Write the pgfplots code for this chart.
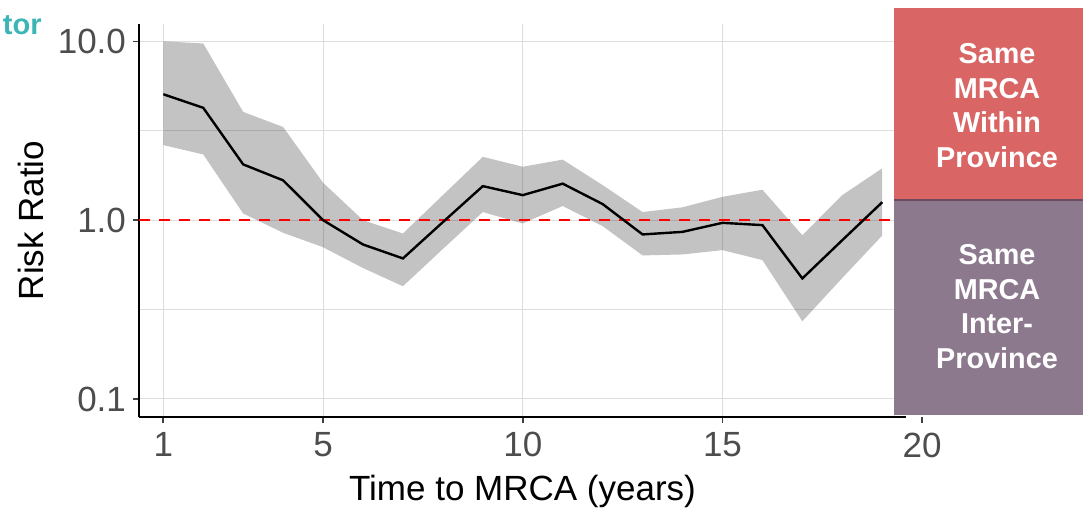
\documentclass[border=0pt]{standalone}
\usepackage{fontspec}
\setmainfont{Liberation Sans}
\usepackage{pgfplots}
\usepackage{pgfplotstable}
\pgfplotsset{compat=1.18}
\usepgfplotslibrary{fillbetween}
\definecolor{gridgrey}{HTML}{DEDEDE}
\definecolor{ticktext}{HTML}{4D4D4D}
\definecolor{withinred}{HTML}{D96565}
\definecolor{interpurple}{HTML}{8D798E}
\definecolor{stripedge}{HTML}{6E4A5E}
\definecolor{tealtext}{HTML}{3DB5B5}

% risk ratio by time to MRCA: estimate and 95% band
\pgfplotstableread{
x  mid   lo    hi
1  5.06  2.63  10.0
2  4.25  2.33  9.73
3  2.05  1.09  4.03
4  1.67  0.85  3.32
5  1.00  0.706 1.62
6  0.731 0.54  1.00
7  0.611 0.427 0.842
8  0.975 0.69  1.38
9  1.55  1.11  2.26
10 1.38  0.958 1.99
11 1.60  1.20  2.18
12 1.23  0.926 1.57
13 0.832 0.635 1.11
14 0.860 0.643 1.18
15 0.966 0.68  1.35
16 0.938 0.598 1.48
17 0.472 0.272 0.824
18 0.773 0.475 1.38
19 1.26  0.821 1.95
}\rrtable

\begin{document}
\begin{tikzpicture}

% strip boxes on the right
\fill[withinred] (447pt,155pt) rectangle (541.5pt,251pt);
\fill[interpurple] (447pt,47.5pt) rectangle (541.5pt,155pt);
\draw[stripedge, line width=0.8pt] (447pt,155pt) -- (541.5pt,155pt);
\node[align=center, text=white, font=\bfseries\fontsize{14.4}{17.25}\selectfont]
  at (498.5pt,202.2pt) {Same\\MRCA\\Within\\Province};
\node[align=center, text=white, font=\bfseries\fontsize{14.4}{17.25}\selectfont]
  at (498.5pt,101.75pt) {Same\\MRCA\\Inter-\\Province};

% clipped legend title from neighbouring panel
\node[anchor=base east, inner sep=0, text=tealtext, font=\bfseries\fontsize{14.5}{17}\selectfont]
  at (21pt,237.5pt) {tor};

\begin{axis}[
  at={(69.5pt,46.5pt)}, anchor=south west,
  scale only axis, width=383.5pt, height=196.5pt,
  xmin=0.392, xmax=19.595,
  ymode=log, ymin=0.0793, ymax=12.5,
  axis lines=left, axis line style={-, black, line width=1pt},
  xtick={1,5,10,15}, xticklabels={1,5,10,15},
  ytick={0.1,1,10}, yticklabels={0.1,1.0,10.0},
  minor ytick={0.3162,3.162},
  xmajorgrids, ymajorgrids, yminorgrids,
  grid style={gridgrey, line width=0.5pt},
  minor grid style={gridgrey, line width=0.5pt},
  tick align=outside, major tick length=3pt, minor tick length=0pt,
  tick style={black!75, line width=0.8pt},
  ticklabel style={font=\fontsize{17.5}{21}\selectfont, text=ticktext},
  xticklabel style={yshift=-1pt},
  xlabel={Time to MRCA (years)}, ylabel={Risk Ratio},
  label style={font=\fontsize{17.5}{21}\selectfont},
  xlabel style={at={(axis description cs:0.5,-0.2112)}, anchor=base},
  ylabel style={at={(axis description cs:-0.1402,0.5)}, anchor=center},
  clip=false,
]
\addplot[name path=hi, draw=none, forget plot] table[x=x, y=hi] {\rrtable};
\addplot[name path=lo, draw=none, forget plot] table[x=x, y=lo] {\rrtable};
\addplot[fill=black, fill opacity=0.235, draw=none] fill between[of=hi and lo];
\addplot[red, line width=1.2pt, dash pattern=on 5.5pt off 4.5pt] coordinates {(0.392,1) (19.3,1)};
\addplot[black, line width=1.2pt] table[x=x, y=mid] {\rrtable};

% the 20 tick sits past the panel edge
\draw[black!75, line width=0.8pt] (axis cs:20,0.0793) -- ([yshift=-3pt]axis cs:20,0.0793);
\node[anchor=base, yshift=-20.15pt, font=\fontsize{17.5}{21}\selectfont, text=ticktext]
  at (axis cs:20,0.0793) {20};
\end{axis}

\pgfresetboundingbox
\path[use as bounding box] (0pt,0pt) rectangle (541.5pt,255pt);
\end{tikzpicture}
\end{document}
